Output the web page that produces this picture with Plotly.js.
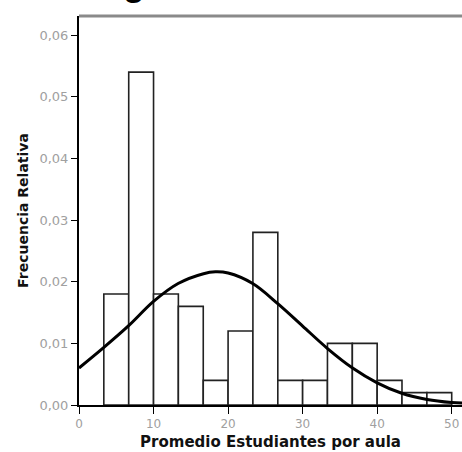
<!DOCTYPE html>
<html>
<head>
<meta charset="utf-8">
<script src="https://cdn.plot.ly/plotly-3.0.1.min.js"></script>
<style>html,body{margin:0;padding:0;background:#fff;}#chart{width:462px;height:452px;}</style>
</head>
<body>
<div id="chart"></div>
<script>
// Histogram bins (lower / upper edges) and relative frequencies
var binLow  = [3.33, 6.67, 10, 13.33, 16.67, 20, 23.33, 26.67, 30, 33.33, 36.67, 40, 43.33, 46.67];
var binHigh = [6.67, 10, 13.33, 16.67, 20, 23.33, 26.67, 30, 33.33, 36.67, 40, 43.33, 46.67, 50];
var relFreq = [0.018, 0.054, 0.018, 0.016, 0.004, 0.012, 0.028, 0.004, 0.004, 0.010, 0.010, 0.004, 0.002, 0.002];

// Normal curve
var curveX = [0, 3.3, 6.7, 10, 13.3, 16.7, 18.3, 20, 23.3, 26.7, 30, 33.3, 36.7, 40, 43.3, 46.7, 50, 51.5];
var curveY = [0.0060, 0.0093, 0.0129, 0.0168, 0.0197, 0.0213, 0.0216, 0.0214, 0.0197, 0.0164, 0.0128, 0.0092, 0.0060, 0.0036, 0.0019, 0.0009, 0.0004, 0.0003];

var xTitle = "Promedio Estudiantes por aula";
var yTitle = "Frecuencia Relativa";
var chartTitle = "Histograma";

var centers = binLow.map(function(l, i){ return (l + binHigh[i]) / 2; });
var widths  = binLow.map(function(l, i){ return binHigh[i] - l; });

var traces = [
  {
    type: 'bar',
    x: centers,
    y: relFreq,
    width: widths,
    marker: {color: '#ffffff', line: {color: '#222222', width: 1.6}},
    hoverinfo: 'skip'
  },
  {
    type: 'scatter',
    mode: 'lines',
    x: curveX,
    y: curveY,
    line: {color: '#000000', width: 3, shape: 'spline'},
    hoverinfo: 'skip'
  }
];

var layout = {
  width: 462,
  height: 452,
  margin: {l: 79, r: 0, t: 16, b: 47, pad: 0},
  paper_bgcolor: '#ffffff',
  plot_bgcolor: '#ffffff',
  showlegend: false,
  separators: ',.',
  xaxis: {
    range: [0, 51.38],
    tickvals: [0, 10, 20, 30, 40, 50],
    ticks: 'outside', ticklen: 7, tickcolor: '#000', tickwidth: 1,
    showline: true, linecolor: '#000', linewidth: 2,
    showgrid: false, zeroline: false,
    tickfont: {family: 'DejaVu Sans', size: 12, color: '#a0a0a0'},
    title: {text: xTitle, standoff: 6, font: {family: 'DejaVu Sans', size: 15, color: '#111111', weight: 'bold'}}
  },
  yaxis: {
    range: [0, 0.0631],
    tickvals: [0, 0.01, 0.02, 0.03, 0.04, 0.05, 0.06],
    tickformat: '.2f',
    ticks: 'outside', ticklen: 6, tickcolor: '#000', tickwidth: 1,
    showline: true, linecolor: '#000', linewidth: 2,
    showgrid: false, zeroline: false,
    tickfont: {family: 'DejaVu Sans', size: 13, color: '#a0a0a0'},
    title: {text: yTitle, standoff: 8, font: {family: 'DejaVu Sans', size: 14, color: '#111111', weight: 'bold'}}
  },
  shapes: [
    {type: 'line', xref: 'paper', yref: 'paper', x0: 0, x1: 1, y0: 1, y1: 1,
     line: {color: '#8a8a8a', width: 3}}
  ],
  annotations: [
    {text: chartTitle, xref: 'paper', yref: 'paper', x: -0.126, y: 1.029,
     xanchor: 'left', yanchor: 'bottom', showarrow: false,
     font: {family: 'Liberation Sans', size: 36, color: '#000', weight: 'bold'}}
  ]
};

Plotly.newPlot('chart', traces, layout, {staticPlot: true, displayModeBar: false});
</script>
</body>
</html>
